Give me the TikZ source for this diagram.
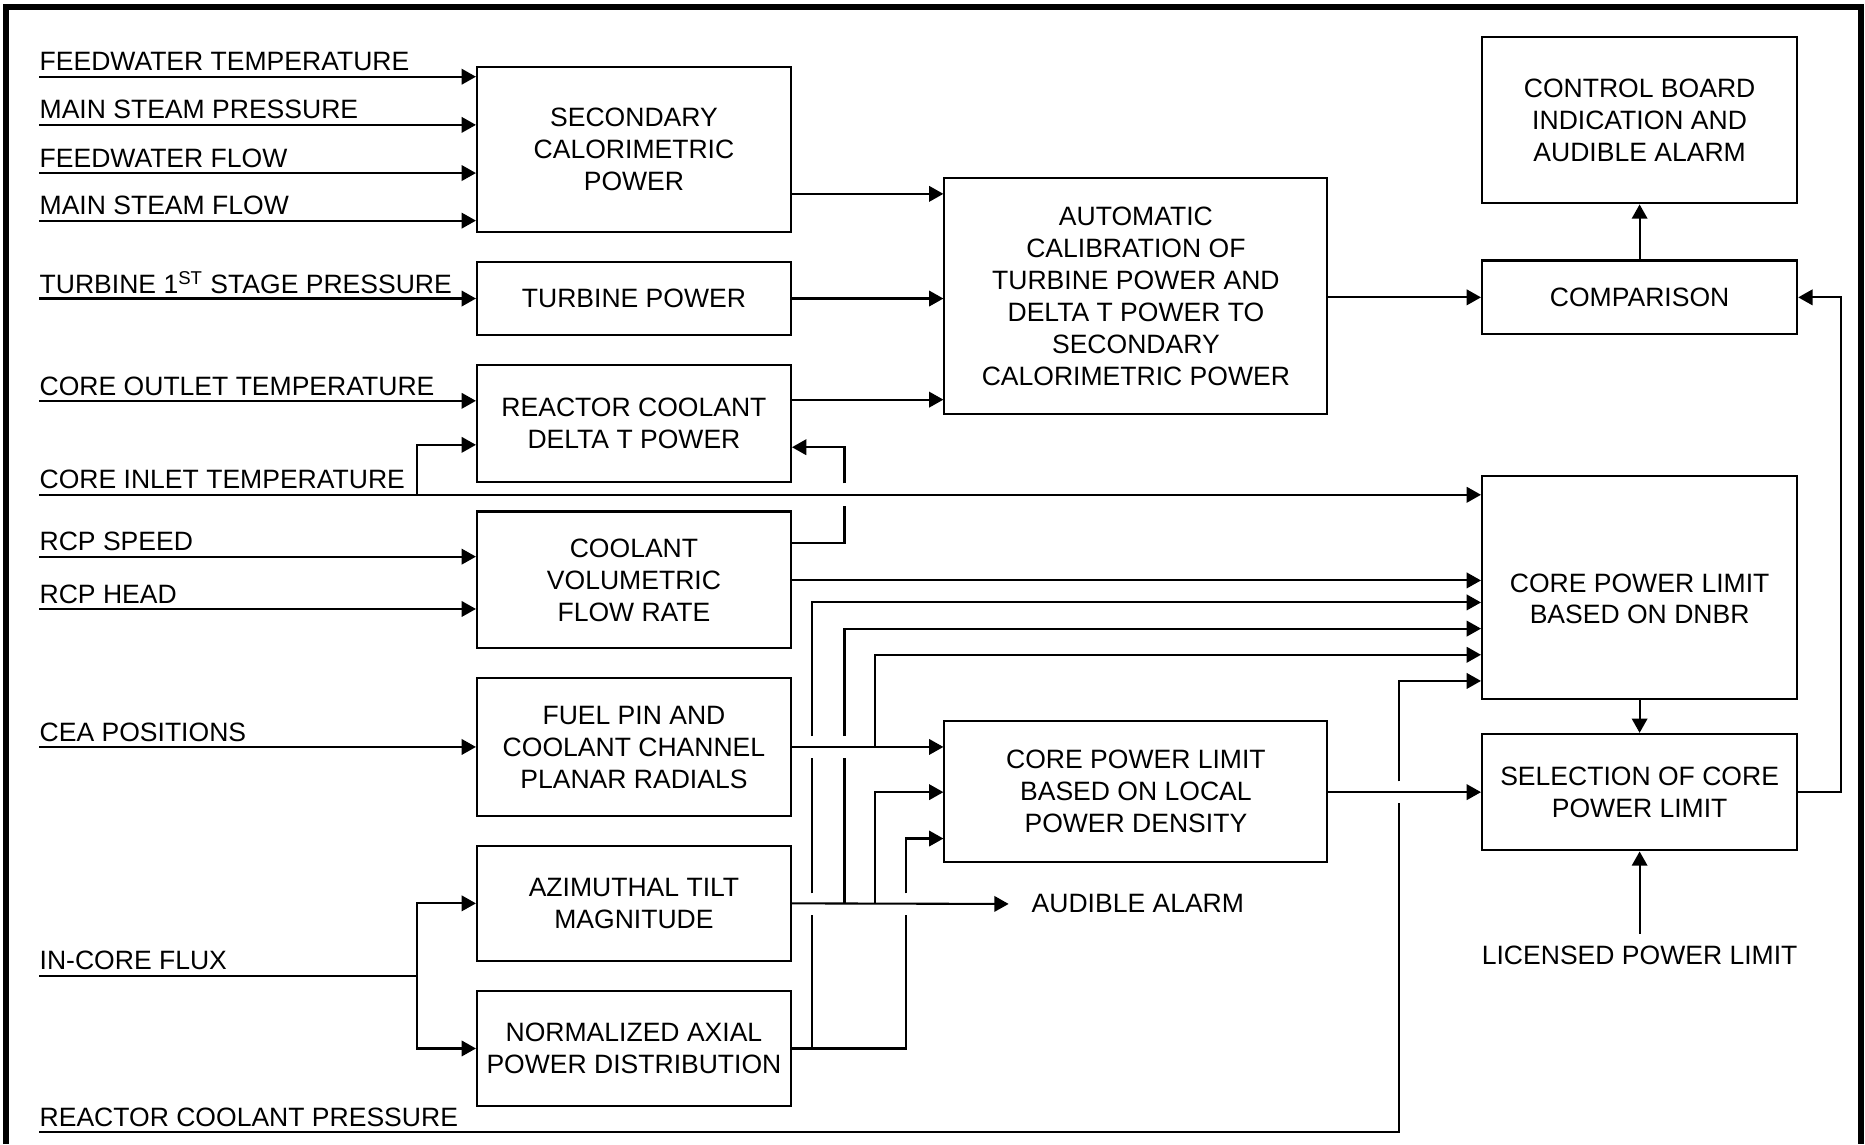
\documentclass[tikz,border=0pt]{standalone}
\usepackage{fontspec}
\setmainfont{Liberation Sans}
\usetikzlibrary{arrows.meta}
\begin{document}
\begin{tikzpicture}[x=0.02cm,y=-0.02cm,
  txt/.style={font=\fontsize{12.7}{15.3}\selectfont},
  blk/.style={txt, draw, line width=1pt, align=center, inner sep=0pt, text depth=-3pt},
  lbl/.style={txt, anchor=base west, inner sep=0pt},
  conn/.style={line width=1pt},
  arr/.style={conn, -{Triangle[length=0.24cm,width=0.26cm]}}]
\useasboundingbox (0,0) rectangle (1568,962);
% frame
\draw[line width=0.1cm] (5.3,962) -- (5.3,5.5) -- (1565,5.5) -- (1565,962);

% blocks
\node[blk, minimum width=5.28cm, minimum height=2.78cm] (sec) at (533,125.5) {SECONDARY\\CALORIMETRIC\\POWER};
\node[blk, minimum width=5.28cm, minimum height=1.24cm] (tur) at (533,251) {TURBINE POWER};
\node[blk, minimum width=5.28cm, minimum height=1.96cm] (dlt) at (533,356) {REACTOR COOLANT\\DELTA T POWER};
\node[blk, minimum width=5.28cm, minimum height=2.30cm] (cvf) at (533,487.5) {COOLANT\\VOLUMETRIC\\FLOW RATE};
\node[blk, minimum width=5.28cm, minimum height=2.32cm] (fpr) at (533,628) {FUEL PIN AND\\COOLANT CHANNEL\\PLANAR RADIALS};
\node[blk, minimum width=5.28cm, minimum height=1.94cm] (azi) at (533,759.5) {AZIMUTHAL TILT\\MAGNITUDE};
\node[blk, minimum width=5.28cm, minimum height=1.94cm] (nap) at (533,881.5) {NORMALIZED AXIAL\\POWER DISTRIBUTION};
\node[blk, minimum width=6.44cm, minimum height=3.96cm] (aut) at (955,249) {AUTOMATIC\\CALIBRATION OF\\TURBINE POWER AND\\DELTA T POWER TO\\SECONDARY\\CALORIMETRIC POWER};
\node[blk, minimum width=6.44cm, minimum height=2.38cm] (lpd) at (955,665.5) {CORE POWER LIMIT\\BASED ON LOCAL\\POWER DENSITY};
\node[blk, minimum width=5.30cm, minimum height=2.80cm] (cba) at (1378.5,101) {CONTROL BOARD\\INDICATION AND\\AUDIBLE ALARM};
\node[blk, minimum width=5.30cm, minimum height=1.24cm] (cmp) at (1378.5,250) {COMPARISON};
\node[draw, line width=1pt, inner sep=0pt, minimum width=5.30cm, minimum height=3.76cm] (dnb) at (1378.5,494) {};
\node[txt, align=center, inner sep=0pt] (dnbt) at (1378.5,503.5) {CORE POWER LIMIT\\BASED ON DNBR};
\node[blk, minimum width=5.30cm, minimum height=1.96cm] (sel) at (1378.5,666) {SELECTION OF CORE\\POWER LIMIT};

% input labels
\node[lbl] (t1) at (33,59.5) {FEEDWATER TEMPERATURE};
\node[lbl] (t2) at (33,100) {MAIN STEAM PRESSURE};
\node[lbl] (t3) at (33,140.5) {FEEDWATER FLOW};
\node[lbl] (t4) at (33,180.5) {MAIN STEAM FLOW};
\node[lbl] (t5) at (33,246.5) {TURBINE 1\textsuperscript{ST} STAGE PRESSURE};
\node[lbl] (t6) at (33,332.5) {CORE OUTLET TEMPERATURE};
\node[lbl] (t7) at (33,411) {CORE INLET TEMPERATURE};
\node[lbl] (t8) at (33,463) {RCP SPEED};
\node[lbl] (t9) at (33,507) {RCP HEAD};
\node[lbl] (t10) at (33,623) {CEA POSITIONS};
\node[lbl] (t11) at (33,815.5) {IN-CORE FLUX};
\node[lbl] (t12) at (33,947) {REACTOR COOLANT PRESSURE};
\node[txt, anchor=base, inner sep=0pt] (lic) at (1378.5,810.5) {LICENSED POWER LIMIT};
\node[txt, anchor=west, inner xsep=0.38cm, inner ysep=0pt] (alarm) at (848,760) {AUDIBLE ALARM};

% input start points
\coordinate (i1) at (33,64.5);
\coordinate (i2) at (33,105);
\coordinate (i3) at (33,145.5);
\coordinate (i4) at (33,185.5);
\coordinate (i5) at (33,251);
\coordinate (i6) at (33,337);
\coordinate (i7) at (33,416);
\coordinate (i8) at (33,468);
\coordinate (i9) at (33,512);
\coordinate (i10) at (33,628);
\coordinate (i11) at (33,820.5);
\coordinate (i12) at (33,952);
\coordinate (licc) at (1378.5,785);

% inputs
\draw[arr] (i1) -- (i1 -| sec.west);
\draw[arr] (i2) -- (i2 -| sec.west);
\draw[arr] (i3) -- (i3 -| sec.west);
\draw[arr] (i4) -- (i4 -| sec.west);
\draw[arr] (i5) -- (i5 -| tur.west);
\draw[arr] (i6) -- (i6 -| dlt.west);
\draw[arr] (i7) -- (i7 -| dnb.west);
\draw[arr] (350.5,416) -- (350.5,374) -- (dlt.west |- 0,374);
\draw[arr] (i8) -- (i8 -| cvf.west);
\draw[arr] (i9) -- (i9 -| cvf.west);
\draw[arr] (i10) -- (i10 -| fpr.west);
\draw[conn] (i11) -- (350.5,820.5);
\draw[arr] (350.5,820.5) -- (350.5,759.5) -- (azi.west);
\draw[arr] (350.5,820.5) -- (350.5,881.5) -- (nap.west);
\draw[arr] (i12) -- (1176,952) -- (1176,675) (1176,657) -- (1176,572.5) -- (dnb.west |- 0,572.5);

% main flow
\draw[arr] (sec.east |- 0,163) -- (aut.west |- 0,163);
\draw[arr] (tur.east) -- (tur.east -| aut.west);
\draw[arr] (dlt.east |- 0,336) -- (aut.west |- 0,336);
\draw[arr] (aut.east |- cmp.west) -- (cmp.west);
\draw[arr] (cmp.north) -- (cba.south);

% coolant flow
\draw[arr] (cvf.east |- 0,456.5) -- (710,456.5) -- (710,425.5) (710,406.5) -- (710,376) -- (dlt.east |- 0,376);
\draw[arr] (cvf.east |- 0,488) -- (dnb.west |- 0,488);

% fuel pin
\draw[arr] (fpr.east) -- (fpr.east -| lpd.west);
\draw[arr] (736,628) -- (736,550.5) -- (dnb.west |- 0,550.5);

% azimuthal tilt
\draw[arr] (azi.east) -- (alarm.west);
\draw[arr] (710,759.5) -- (710,637) (710,619) -- (710,528.5) -- (dnb.west |- 0,528.5);
\draw[arr] (736,759.5) -- (736,666) -- (lpd.west |- 0,666);

% normalized axial
\draw[arr] (nap.east) -- (762,881.5) -- (762,769) (762,751) -- (762,705) -- (lpd.west |- 0,705);
\draw[arr] (683,881.5) -- (683,769) (683,751) -- (683,637) (683,619) -- (683,506.5) -- (dnb.west |- 0,506.5);

% right side
\draw[arr] (lpd.east |- sel.west) -- (sel.west);
\draw[arr] (dnb.south) -- (sel.north);
\draw[arr] (sel.east) -- (1548,666) -- (1548,250) -- (cmp.east);
\draw[arr] (licc) -- (sel.south);
\end{tikzpicture}
\end{document}
